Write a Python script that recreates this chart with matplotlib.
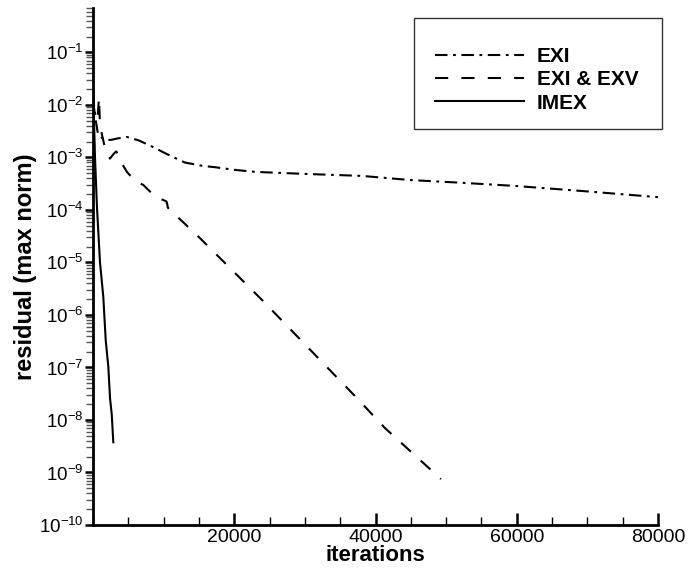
import numpy as np
import matplotlib
matplotlib.use("Agg")
import matplotlib.pyplot as plt
from matplotlib.ticker import LogLocator, NullFormatter, FixedLocator, MultipleLocator
from matplotlib.patches import Rectangle

plt.rcParams['font.family'] = ['Liberation Sans', 'DejaVu Sans']
plt.rcParams['mathtext.fontset'] = 'custom'
plt.rcParams['mathtext.rm'] = 'Liberation Sans'
plt.rcParams['lines.scale_dashes'] = False

# EXI (dash-dot)
exi_it = [0, 300, 700, 1500, 2500, 3500, 4800, 6500, 8400, 10500, 13000, 15500,
          17300, 20000, 23000, 30000, 38000, 45000, 52000, 60000, 70000, 80000]
exi_res = [1.6e-2, 6e-3, 2.8e-3, 2.2e-3, 2.15e-3, 2.3e-3, 2.45e-3, 2.1e-3, 1.6e-3,
           1.15e-3, 8e-4, 6.9e-4, 6.5e-4, 5.8e-4, 5.3e-4, 4.85e-4, 4.45e-4, 3.7e-4,
           3.3e-4, 2.85e-4, 2.25e-4, 1.75e-4]

# EXI & EXV (dashed)
exv_it = [0, 400, 700, 850, 1000, 1200, 1700, 2400, 3000, 3300, 4000, 4800, 6000,
          7100, 8800, 10400, 10500, 10600, 15150, 23930, 37380, 41345, 49270]
exv_res = [1.2e-2, 5e-3, 7e-3, 1.4e-2, 3.6e-3, 3e-3, 1.5e-3, 9.5e-4, 1.2e-3, 1.3e-3,
           8e-4, 5.3e-4, 3.5e-4, 3.0e-4, 1.8e-4, 1.45e-4, 1.3e-4, 1.1e-4, 2.9e-5,
           1.93e-6, 2.6e-8, 7e-9, 7.5e-10]

# IMEX (solid)
imex_it = [0, 283, 566, 990, 1460, 1800, 2170, 2410, 2650, 2875]
imex_res = [2.6e-2, 1e-3, 1.1e-4, 1e-5, 2.2e-6, 3.3e-7, 1.03e-7, 2.6e-8, 1.3e-8, 3.76e-9]

xtick_vals = [20000, 40000, 60000, 80000]
xtick_labels = ['20000', '40000', '60000', '80000']

fig = plt.figure(figsize=(6.9, 5.72), dpi=100)
ax = fig.add_axes([93/690, 47/572, 565/690, 517/572])

l1, = ax.plot(exi_it, exi_res, color='black', lw=1.5, dashes=(9, 4, 2, 4), label='EXI')
l2, = ax.plot(exv_it, exv_res, color='black', lw=1.5, dashes=(9.5, 9.5), label='EXI & EXV')
l3, = ax.plot(imex_it, imex_res, color='black', lw=1.5, label='IMEX')

ax.set_yscale('log')
ax.set_xlim(0, 80000)
ax.set_ylim(1e-10, 0.7)

ax.xaxis.set_major_locator(FixedLocator(xtick_vals))
ax.xaxis.set_minor_locator(MultipleLocator(5000))
ax.set_xticklabels(xtick_labels)
ax.yaxis.set_major_locator(LogLocator(base=10, numticks=100))
ax.yaxis.set_minor_locator(LogLocator(base=10, subs=np.arange(2, 10), numticks=100))
ax.yaxis.set_minor_formatter(NullFormatter())

ax.spines['top'].set_visible(False)
ax.spines['right'].set_visible(False)
ax.spines['left'].set_linewidth(2)
ax.spines['bottom'].set_linewidth(2)

ax.tick_params(axis='x', which='major', direction='in', length=9, width=1.8, labelsize=14, pad=3)
ax.tick_params(axis='x', which='minor', direction='in', length=6, width=1)
ax.tick_params(axis='y', which='major', direction='out', length=6, width=1.8, labelsize=13.5, pad=1)
ax.tick_params(axis='y', which='minor', direction='out', length=5, width=1, color='#555555')

ax.set_xlabel('iterations', fontsize=16, fontweight='bold', labelpad=-1)
ax.set_ylabel('residual (max norm)', fontsize=17, fontweight='bold', labelpad=1)

# legend box
ax.add_patch(Rectangle((0.568, 0.766), 0.439, 0.215, transform=ax.transAxes,
                       fill=False, edgecolor='#333333', lw=1, clip_on=False))
leg = ax.legend(handles=[l1, l2, l3], loc='upper left', bbox_to_anchor=(0.605, 0.924),
                frameon=False, borderpad=0, borderaxespad=0, handlelength=4.3,
                handletextpad=0.6, labelspacing=0.2, prop={'size': 15, 'weight': 'bold'})

fig.savefig('out.png', dpi=100)
